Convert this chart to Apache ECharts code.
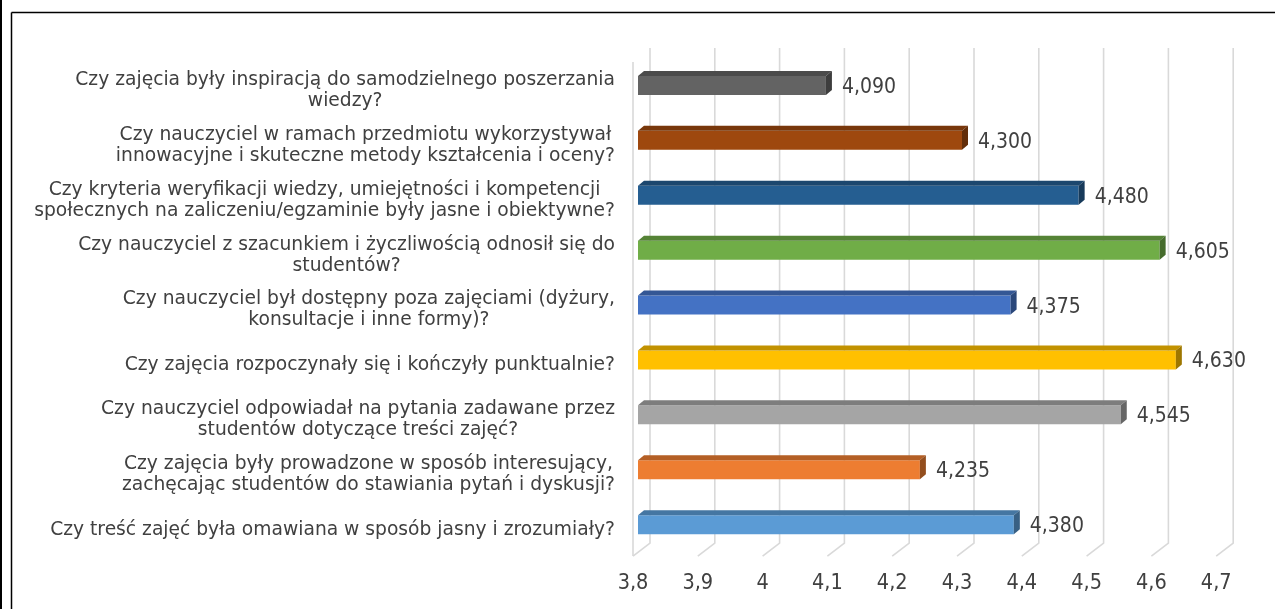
<!DOCTYPE html>
<html>
<head>
<meta charset="utf-8">
<script src="https://cdn.jsdelivr.net/npm/echarts@6/dist/echarts.min.js"></script>
<style>
  html, body { margin: 0; padding: 0; background: #fff; }
  #chart { width: 1275px; height: 609px; }
</style>
</head>
<body>
<div id="chart"></div>
<script>
// questions, top to bottom
const categories = [
    'Czy zajęcia były inspiracją do samodzielnego poszerzania\nwiedzy?',
    'Czy nauczyciel w ramach przedmiotu wykorzystywał\ninnowacyjne i skuteczne metody kształcenia i oceny?',
    'Czy kryteria weryfikacji wiedzy, umiejętności i kompetencji\nspołecznych na zaliczeniu/egzaminie były jasne i obiektywne?',
    'Czy nauczyciel z szacunkiem i życzliwością odnosił się do\nstudentów?',
    'Czy nauczyciel był dostępny poza zajęciami (dyżury,\nkonsultacje i inne formy)?',
    'Czy zajęcia rozpoczynały się i kończyły punktualnie?',
    'Czy nauczyciel odpowiadał na pytania zadawane przez\nstudentów dotyczące treści zajęć?',
    'Czy zajęcia były prowadzone w sposób interesujący,\nzachęcając studentów do stawiania pytań i dyskusji?',
    'Czy treść zajęć była omawiana w sposób jasny i zrozumiały?'
];
const scores = [4.09, 4.3, 4.48, 4.605, 4.375, 4.63, 4.545, 4.235, 4.38];
const ticks = [3.8, 3.9, 4.0, 4.1, 4.2, 4.3, 4.4, 4.5, 4.6, 4.7];

const barColors = ['#636363', '#9e480e', '#255e91', '#70ad47', '#4472c4', '#ffc000', '#a5a5a5', '#ed7d31', '#5b9bd5'];
const textColor = '#404040';
const gridColor = '#d9d9d9';
const font = '"DejaVu Sans", Verdana, sans-serif';
const numFont = '"DejaVu Sans Condensed", "DejaVu Sans", sans-serif';

function shade(hex, f) {
    const n = parseInt(hex.slice(1), 16);
    const r = Math.round(((n >> 16) & 255) * f);
    const g = Math.round(((n >> 8) & 255) * f);
    const b = Math.round((n & 255) * f);
    return `rgb(${r},${g},${b})`;
}

function fmtTick(v) {
    return String(Number(v.toFixed(1))).replace('.', ',');
}

// back wall gridlines folding onto the floor
function renderGridLine(params, api) {
    const cs = params.coordSys;
    const x = api.coord([api.value(0), 0])[0];
    const top = cs.y - 10, back = cs.y + cs.height - 9, front = cs.y + cs.height + 4;
    const lineStyle = { stroke: gridColor, lineWidth: 1.6, fill: null };
    const children = [{
        type: 'polyline',
        shape: { points: [[x + 12, top], [x + 12, back], [x - 5, front]] },
        style: lineStyle
    }];
    if (params.dataIndex === 0) {
        children.push({
            type: 'line',
            shape: { x1: x - 5, y1: top + 14, x2: x - 5, y2: front },
            style: lineStyle
        });
    }
    return { type: 'group', children };
}

function renderBar(params, api) {
    const v = api.value(0);
    const idx = api.value(1);
    const x0 = api.coord([3.8, idx])[0];
    const [x1, yc] = api.coord([v, idx]);
    const h = 19, dx = 6, dy = 5;
    const yt = yc - h / 2, yb = yc + h / 2;
    const c = barColors[params.dataIndex];
    return {
        type: 'group',
        children: [
            { type: 'rect', shape: { x: x0, y: yt, width: x1 - x0, height: h }, style: { fill: c } },
            { type: 'polygon', shape: { points: [[x0, yt], [x0 + dx, yt - dy], [x1 + dx, yt - dy], [x1, yt]] }, style: { fill: shade(c, 0.76) } },
            { type: 'polygon', shape: { points: [[x1, yt], [x1 + dx, yt - dy], [x1 + dx, yb - dy], [x1, yb]] }, style: { fill: shade(c, 0.62) } },
            {
                type: 'text',
                x: x1 + dx + 10, y: yc + 2,
                style: {
                    text: v.toFixed(3).replace('.', ','),
                    fill: textColor, font: '21px ' + numFont,
                    textAlign: 'left', textVerticalAlign: 'middle'
                }
            }
        ]
    };
}

const chart = echarts.init(document.getElementById('chart'));
chart.setOption({
    backgroundColor: '#fff',
    animation: false,
    grid: { left: 638, top: 58, width: 583.2, height: 494.1 },
    xAxis: {
        type: 'value', min: 3.8, max: 4.7, interval: 0.1,
        axisLine: { show: false }, axisTick: { show: false }, splitLine: { show: false },
        axisLabel: {
            formatter: fmtTick, color: textColor, fontSize: 21.5, fontFamily: numFont,
            margin: 20, padding: [0, 10, 0, 0]
        }
    },
    yAxis: {
        type: 'category', inverse: true, data: categories,
        axisLine: { show: false }, axisTick: { show: false },
        axisLabel: {
            margin: 23, color: textColor, fontSize: 18.7, fontFamily: font,
            padding: [10, 0, 0, 0],
            formatter: (val) => val.split('\n').map(l => '{c|' + l + '}').join('\n'),
            rich: { c: { align: 'center', fontSize: 18.7, fontFamily: font, color: textColor, lineHeight: 21 } }
        }
    },
    series: [
        {
            type: 'custom', z: 1, clip: false, silent: true,
            renderItem: renderGridLine,
            data: ticks.map(t => [t, 0])
        },
        {
            type: 'custom', z: 2, clip: false, silent: true,
            renderItem: renderBar,
            data: scores.map((s, i) => [s, i])
        }
    ],
    graphic: [
        { type: 'line', shape: { x1: 1, y1: 0, x2: 1, y2: 609 }, style: { stroke: '#000', lineWidth: 2 } },
        { type: 'line', shape: { x1: 11.5, y1: 12.5, x2: 1275, y2: 12.5 }, style: { stroke: '#000', lineWidth: 1.5 } },
        { type: 'line', shape: { x1: 11.5, y1: 12.5, x2: 11.5, y2: 609 }, style: { stroke: '#000', lineWidth: 1.5 } }
    ]
});
</script>
</body>
</html>
